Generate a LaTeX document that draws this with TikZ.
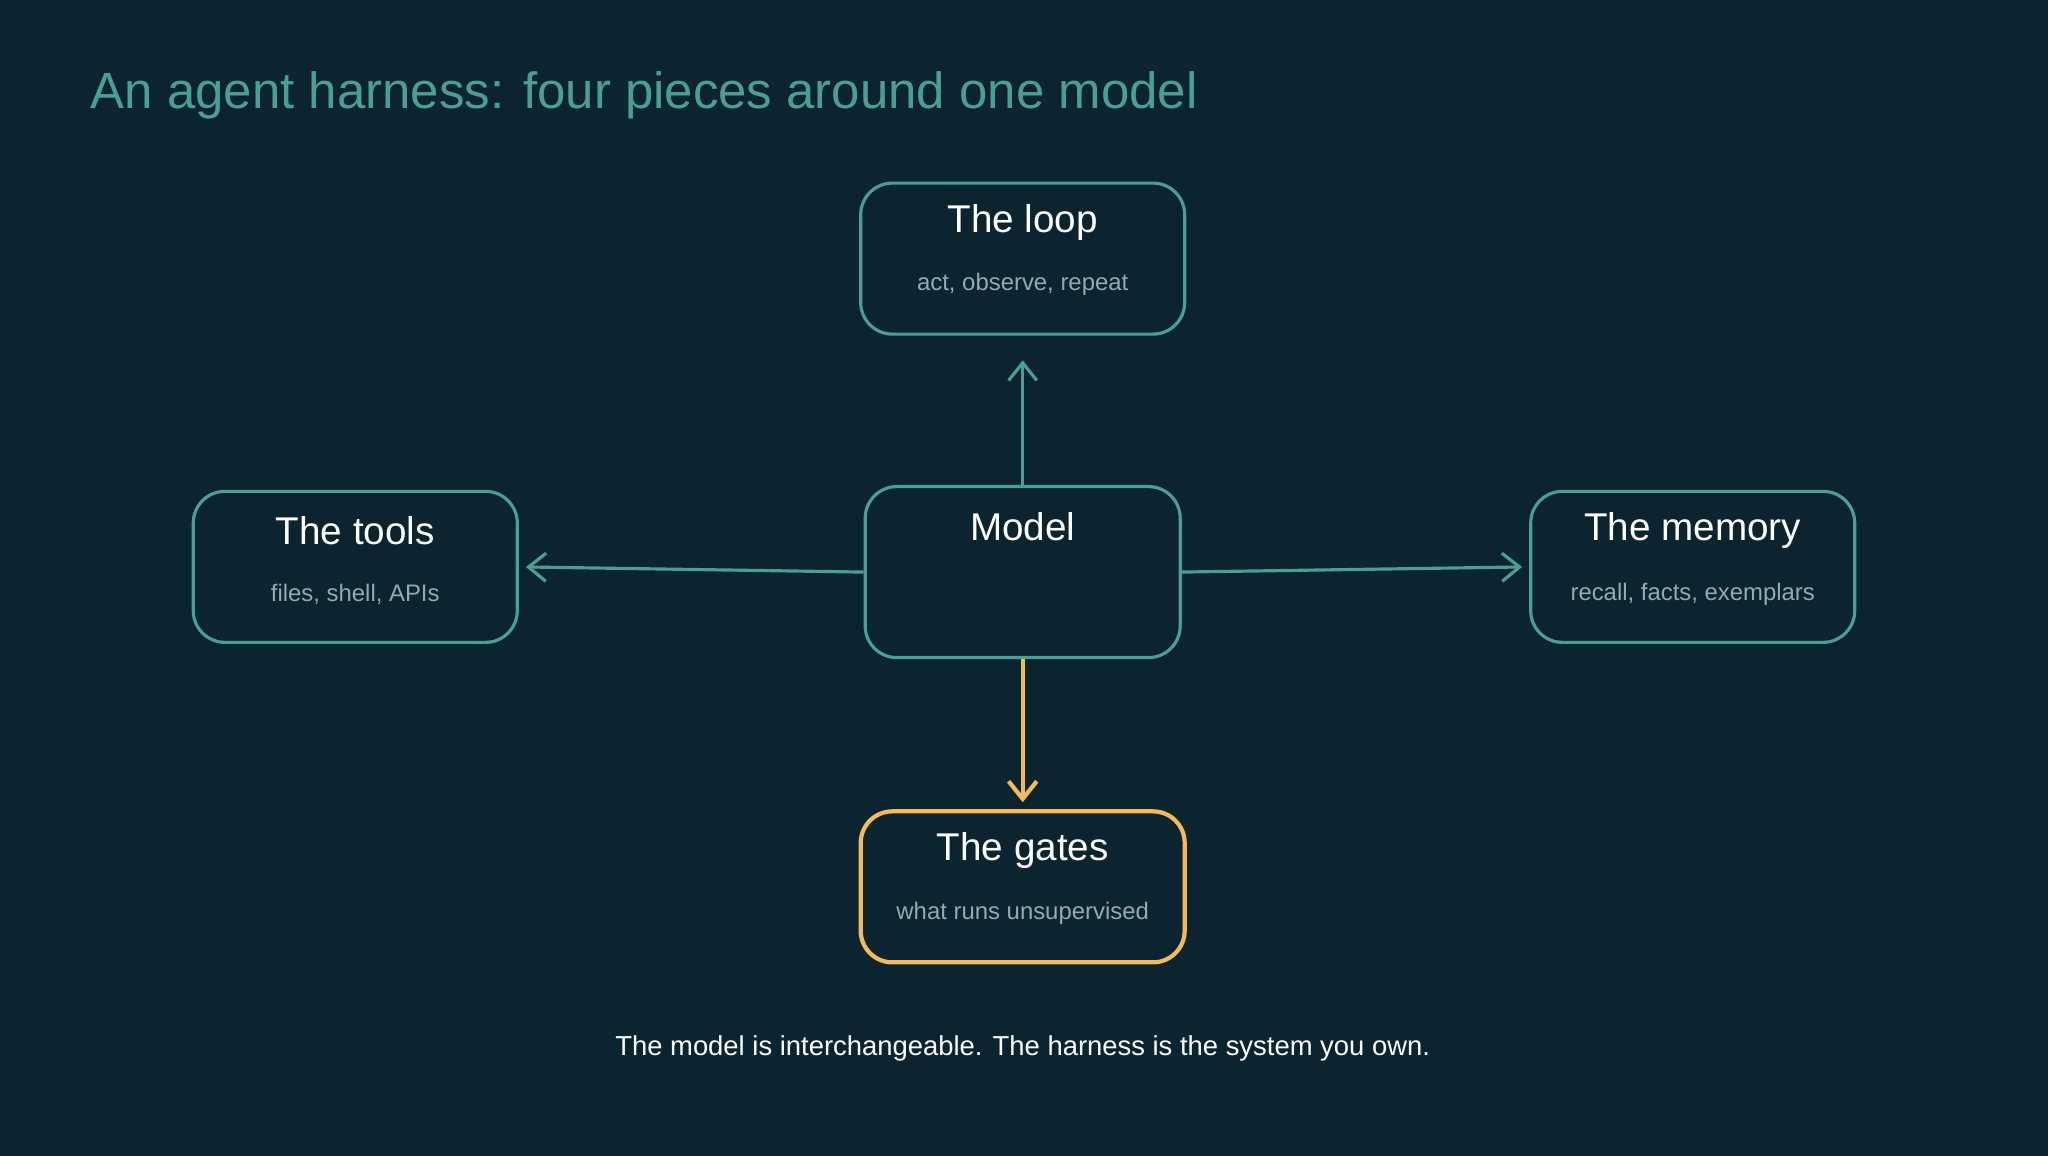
\documentclass[tikz,border=0pt]{standalone}
\usepackage{fontspec}
\setmainfont{Liberation Sans}
\usetikzlibrary{arrows.meta,positioning}
\definecolor{bg}{HTML}{0B2430}
\definecolor{teal}{HTML}{4A9E94}
\definecolor{gold}{HTML}{F2BA5C}
\definecolor{muted}{HTML}{93AAB2}
\begin{document}
\begin{tikzpicture}[x=0.01306cm,y=-0.01306cm,
  >={Straight Barb[length=5pt,width=8pt]},
  box/.style={draw=teal,line width=0.9pt,rounded corners=9pt,minimum width=3.24cm,minimum height=1.51cm},
  head/.style={text=white,font=\fontsize{11}{13}\selectfont},
  sub/.style={text=muted,font=\fontsize{6.8}{8}\selectfont},
  link/.style={->,draw=teal,line width=0.9pt}]

  \fill[bg] (0,0) rectangle (1568,885);
  \node[anchor=west,text=teal,font=\fontsize{14.5}{17}\selectfont] (title) at (60,73) {An agent harness: four pieces around one model};

  \node[box,minimum width=3.15cm,minimum height=1.71cm] (model) at (783,438) {};
  \node[head] (modelhead) at (783,403) {Model};

  \node[box] (loop) at (783,198) {};
  \node[head] (loophead) at (783,170) {The loop};
  \node[sub] (loopsub) at (783,218) {act, observe, repeat};

  \node[box] (tools) at (272,434) {};
  \node[head] (toolshead) at (272,406) {The tools};
  \node[sub] (toolssub) at (272,455) {files, shell, APIs};

  \node[box] (memory) at (1296,434) {};
  \node[head] (memoryhead) at (1296,406) {The memory};
  \node[sub] (memorysub) at (1296,455) {recall, facts, exemplars};

  \node[box,draw=gold,line width=1.2pt] (gates) at (783,679) {};
  \node[head] (gateshead) at (783,651) {The gates};
  \node[sub] (gatessub) at (783,699) {what runs unsupervised};

  \draw[link,shorten >=7pt] (model.north) -- (loop.south);
  \draw[link,shorten >=2pt] (model.west) -- (tools.east);
  \draw[link,shorten >=2pt] (model.east) -- (memory.west);
  \draw[link,draw=gold,line width=1.2pt,shorten >=2pt] (model.south) -- (gates.north);

  \node[text=white,font=\fontsize{7.8}{9}\selectfont] (footer) at (783,803) {The model is interchangeable. The harness is the system you own.};
\end{tikzpicture}
\end{document}
